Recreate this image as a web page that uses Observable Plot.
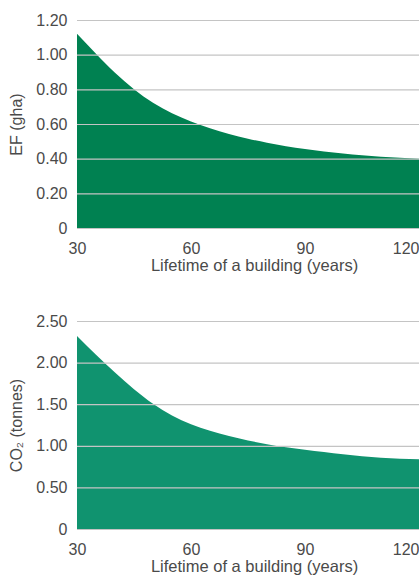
<!DOCTYPE html>
<html>
<head>
<meta charset="utf-8">
<script src="https://cdn.jsdelivr.net/npm/d3@7"></script>
<script src="https://cdn.jsdelivr.net/npm/@observablehq/plot@0.6"></script>
<style>
  html, body { margin: 0; padding: 0; background: #fff; }
  #charts { width: 419px; }
  #charts svg { display: block; }
</style>
</head>
<body>
<div id="charts"></div>
<script>
// Lifetime of a building (years)
const years = [30, 35, 40, 45, 50, 55, 60, 65, 70, 75, 80, 85, 90, 95, 100, 105, 110, 115, 120];
// Ecological footprint (gha)
const efValues = [1.12, 1.005, 0.895, 0.80, 0.722, 0.662, 0.615, 0.576, 0.543, 0.515, 0.492, 0.472, 0.456, 0.442, 0.43, 0.42, 0.411, 0.405, 0.40];
// CO2 (tonnes)
const co2Values = [2.32, 2.095, 1.88, 1.68, 1.505, 1.365, 1.258, 1.18, 1.118, 1.065, 1.02, 0.982, 0.952, 0.925, 0.898, 0.874, 0.856, 0.845, 0.838];

const xTicks = [30, 60, 90, 120];
const xLabel = "Lifetime of a building (years)";

const efTicks = [0, 0.2, 0.4, 0.6, 0.8, 1.0, 1.2];
const efTickLabels = ["0", "0.20", "0.40", "0.60", "0.80", "1.00", "1.20"];
const efLabel = "EF (gha)";

const co2Ticks = [0, 0.5, 1.0, 1.5, 2.0, 2.5];
const co2TickLabels = ["0", "0.50", "1.00", "1.50", "2.00", "2.50"];
const co2Label = "CO\u2082 (tonnes)";

const textColor = "#4a4a4a";

function chart({values, color, yDomain, yTicks, yTickLabels, yLabel, height, marginTop, marginBottom}) {
  const data = years.map((t, i) => ({t, v: values[i]}));
  return Plot.plot({
    width: 419,
    height,
    marginLeft: 77,
    marginRight: 0,
    marginTop,
    marginBottom,
    style: {fontFamily: "'Liberation Sans', Arial, sans-serif", fontSize: "16px", color: textColor, background: "#fff", overflow: "visible"},
    x: {domain: [30, 120]},
    y: {domain: yDomain},
    marks: [
      Plot.areaY(data, {x: "t", y: "v", fill: color, curve: "monotone-x"}),
      Plot.gridY(yTicks, {stroke: "#c4c4c4", strokeOpacity: 1, strokeWidth: 1.2}),
      Plot.axisY(yTicks, {
        tickSize: 0, tickPadding: 10,
        tickFormat: d => yTickLabels[yTicks.indexOf(d)],
        label: yLabel, labelAnchor: "center", labelOffset: 67, labelArrow: "none"
      }),
      Plot.axisX(xTicks.slice(0, 3), {
        tickSize: 0, tickPadding: 14, tickFormat: d => String(d), label: null
      }),
      Plot.axisX(xTicks.slice(3), {
        tickSize: 0, tickPadding: 14, tickFormat: d => String(d), textAnchor: "end", label: null
      }),
      Plot.text([xLabel], {
        text: d => d, frameAnchor: "bottom", dy: 42, dx: 6, fontSize: 16.5, fill: textColor
      })
    ]
  });
}

const root = document.getElementById("charts");
root.appendChild(chart({
  values: efValues, color: "#008151", yDomain: [0, 1.2], yTicks: efTicks, yTickLabels: efTickLabels,
  yLabel: efLabel, height: 290, marginTop: 20, marginBottom: 62
}));
root.appendChild(chart({
  values: co2Values, color: "#10936f", yDomain: [0, 2.5], yTicks: co2Ticks, yTickLabels: co2TickLabels,
  yLabel: co2Label, height: 292, marginTop: 31, marginBottom: 53
}));
</script>
</body>
</html>
